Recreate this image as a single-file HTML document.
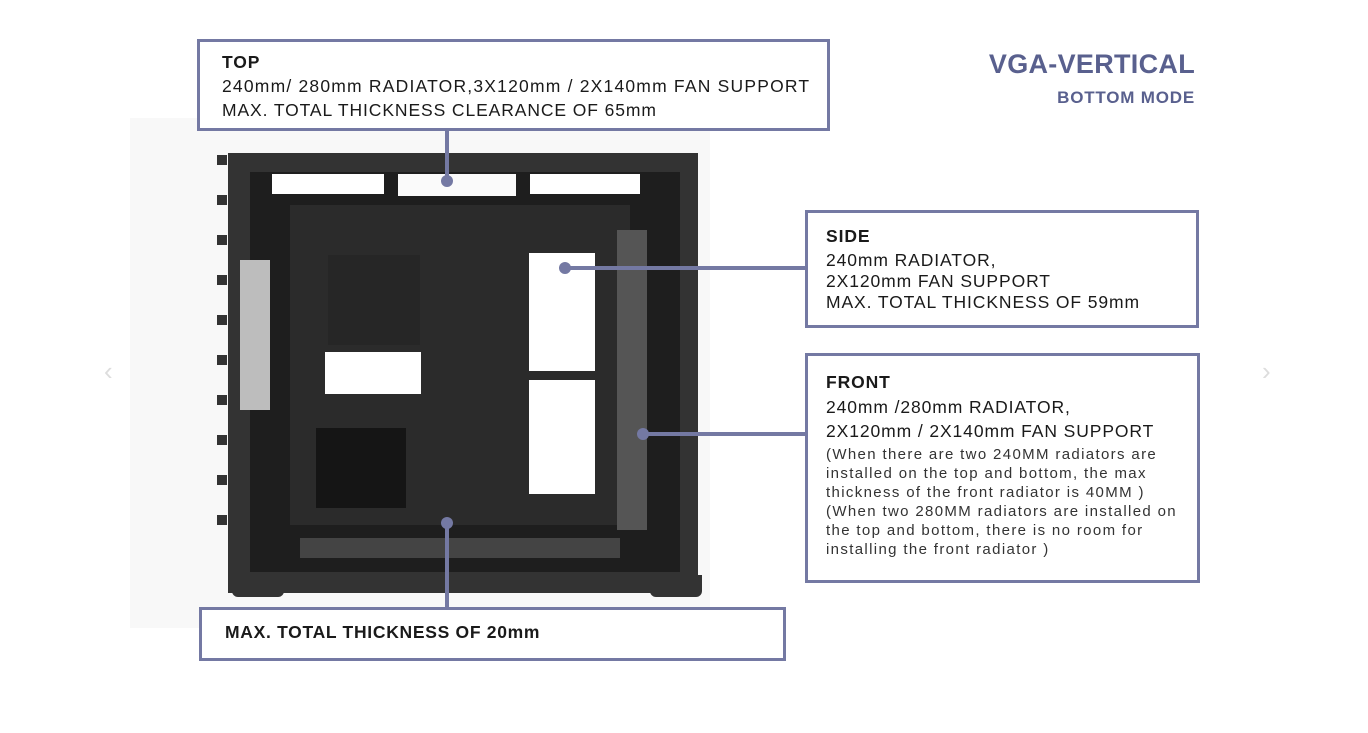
<!DOCTYPE html>
<html><head><meta charset="utf-8"><style>
body{margin:0;width:1368px;height:733px;background:#fff;position:relative;overflow:hidden;font-family:"Liberation Sans",sans-serif;color:#1a1a1a}
.box{position:absolute;border:3px solid #7479a3;box-sizing:border-box;background:#fff}
.t{position:absolute;white-space:nowrap;font-size:17.5px;letter-spacing:0.9px}
.b{font-weight:bold}
.s{font-size:15px;letter-spacing:1.35px;color:#333}
.ln{position:absolute;background:#7479a3}
.dot{position:absolute;width:12px;height:12px;border-radius:50%;background:#7479a3}
.d{position:absolute;background:#2a2a2a}
.w{position:absolute;background:#fff}
</style></head><body>
<div style="position:absolute;left:130px;top:118px;width:580px;height:510px;background:#f8f8f8"></div>
<div style="position:absolute;left:104px;top:356px;color:#ddd;font-size:26px">‹</div>
<div style="position:absolute;left:1262px;top:356px;color:#ddd;font-size:26px">›</div>

<!-- case -->
<div class="d" style="left:228px;top:153px;width:470px;height:440px;background:#333"></div>
<div class="d" style="left:250px;top:172px;width:430px;height:400px;background:#1e1e1e"></div>
<div class="w" style="left:272px;top:174px;width:112px;height:20px"></div>
<div class="w" style="left:398px;top:174px;width:118px;height:22px;background:#fafafa"></div>
<div class="w" style="left:530px;top:174px;width:110px;height:20px"></div>
<div class="d" style="left:290px;top:205px;width:340px;height:320px;background:#2b2b2b"></div>
<div class="d" style="left:328px;top:255px;width:92px;height:90px;background:#262626"></div>
<div class="w" style="left:325px;top:352px;width:96px;height:42px"></div>
<div class="w" style="left:529px;top:253px;width:66px;height:118px"></div>
<div class="w" style="left:529px;top:380px;width:66px;height:114px"></div>
<div class="d" style="left:316px;top:428px;width:90px;height:80px;background:#151515"></div>
<div class="w" style="left:240px;top:260px;width:30px;height:150px;background:#bdbdbd"></div>
<div class="w" style="left:617px;top:230px;width:30px;height:300px;background:#555"></div>
<div class="d" style="left:300px;top:538px;width:320px;height:20px;background:#444"></div>
<div class="d" style="left:232px;top:575px;width:52px;height:22px;background:#333;border-radius:0 0 6px 6px"></div>
<div class="d" style="left:650px;top:575px;width:52px;height:22px;background:#333;border-radius:0 0 6px 6px"></div>
<div class="d" style="left:217px;top:155px;width:10px;height:380px;background:repeating-linear-gradient(#333 0 10px,transparent 10px 40px)"></div>

<!-- connectors -->
<div class="ln" style="left:445px;top:128px;width:4px;height:52px"></div>
<div class="dot" style="left:441px;top:175px"></div>
<div class="ln" style="left:565px;top:266px;width:242px;height:4px"></div>
<div class="dot" style="left:559px;top:262px"></div>
<div class="ln" style="left:643px;top:432px;width:164px;height:4px"></div>
<div class="dot" style="left:637px;top:428px"></div>
<div class="ln" style="left:445px;top:522px;width:4px;height:88px"></div>
<div class="dot" style="left:441px;top:517px"></div>

<!-- boxes -->
<div class="box" style="left:197px;top:39px;width:633px;height:92px"></div>
<div class="t b" style="left:222px;top:52px">TOP</div>
<div class="t" style="left:222px;top:76px;letter-spacing:1.2px">240mm/ 280mm RADIATOR,3X120mm / 2X140mm FAN SUPPORT</div>
<div class="t" style="left:222px;top:100px">MAX. TOTAL THICKNESS CLEARANCE OF 65mm</div>

<div class="box" style="left:805px;top:210px;width:394px;height:118px"></div>
<div class="t b" style="left:826px;top:226px">SIDE</div>
<div class="t" style="left:826px;top:250px">240mm RADIATOR,</div>
<div class="t" style="left:826px;top:271px">2X120mm FAN SUPPORT</div>
<div class="t" style="left:826px;top:292px">MAX. TOTAL THICKNESS OF 59mm</div>

<div class="box" style="left:805px;top:353px;width:395px;height:230px"></div>
<div class="t b" style="left:826px;top:372px">FRONT</div>
<div class="t" style="left:826px;top:397px">240mm /280mm RADIATOR,</div>
<div class="t" style="left:826px;top:421px">2X120mm / 2X140mm FAN SUPPORT</div>
<div class="t s" style="left:826px;top:446px">(When there are two 240MM radiators are</div>
<div class="t s" style="left:826px;top:465px">installed on the top and bottom, the max</div>
<div class="t s" style="left:826px;top:484px">thickness of the front radiator is 40MM )</div>
<div class="t s" style="left:826px;top:503px">(When two 280MM radiators are installed on</div>
<div class="t s" style="left:826px;top:522px">the top and bottom, there is no room for</div>
<div class="t s" style="left:826px;top:541px">installing the front radiator )</div>

<div class="box" style="left:199px;top:607px;width:587px;height:54px"></div>
<div class="t b" style="left:225px;top:622px;letter-spacing:0.7px">MAX. TOTAL THICKNESS OF 20mm</div>

<div class="t b" style="right:173px;top:49px;font-size:27px;letter-spacing:0.3px;color:#59608e">VGA-VERTICAL</div>
<div class="t b" style="right:173px;top:88px;font-size:17px;color:#59608e;letter-spacing:0.8px">BOTTOM MODE</div>
</body></html>
